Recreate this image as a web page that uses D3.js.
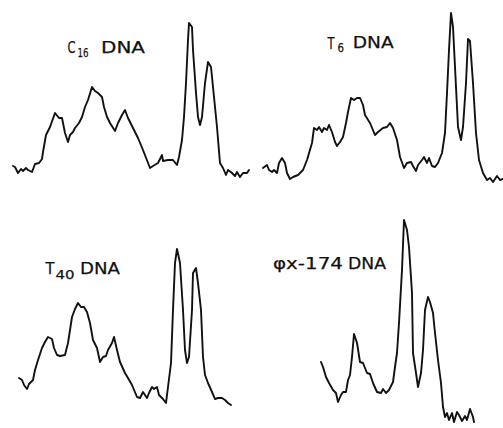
<!DOCTYPE html>
<html>
<head>
<meta charset="utf-8">
<script src="https://cdn.jsdelivr.net/npm/d3@7"></script>
<style>
html,body{margin:0;padding:0;background:#fff;}
svg{display:block;}
text{font-family:"DejaVu Sans","Liberation Sans",sans-serif;fill:#111;stroke:#111;stroke-width:0.25;}
</style>
</head>
<body>
<svg id="chart" width="503" height="428"></svg>
<script>
// Densitometer traces: [position along gradient, absorbance] (arbitrary units)
const c16 = [[1,14],[3,13],[6,7],[9,11],[11,9],[14,12],[16,10],[20,8],[23,16],[27,17],[30,21],[31,28],[34,45],[38,53],[43,67],[47,62],[50,62],[53,47],[56,38],[58,45],[61,48],[63,52],[67,57],[70,63],[73,73],[76,80],[80,93],[83,89],[86,87],[90,83],[92,73],[95,63],[98,57],[103,49],[106,57],[110,65],[113,70],[116,62],[121,52],[126,42],[131,30],[138,12],[141,14],[146,17],[148,21],[150,25],[151,19],[156,20],[161,20],[165,15],[167,23],[170,40],[172,63],[174,97],[176,140],[177,157],[180,153],[181,130],[184,87],[186,63],[188,55],[190,63],[193,97],[196,118],[199,113],[201,93],[205,53],[208,17],[211,12],[214,5],[216,10],[220,7],[223,4],[225,8],[228,3],[231,7],[235,7],[237,10]];
const t6 = [[1,14],[5,17],[7,12],[10,10],[12,12],[15,9],[17,19],[20,24],[23,19],[25,9],[28,3],[31,5],[36,7],[41,12],[45,22],[50,39],[52,54],[55,52],[57,55],[60,50],[62,54],[65,52],[67,57],[70,50],[73,40],[75,36],[78,40],[81,45],[84,59],[86,70],[89,84],[92,82],[95,84],[98,84],[101,77],[103,67],[108,59],[113,47],[116,50],[121,54],[125,55],[128,59],[131,54],[135,42],[138,25],[142,14],[145,19],[149,20],[151,16],[154,11],[156,17],[160,22],[162,25],[165,19],[167,24],[170,16],[173,15],[176,19],[180,29],[183,49],[185,89],[187,132],[189,169],[191,155],[193,115],[196,55],[199,42],[201,55],[204,99],[206,143],[208,141],[211,99],[214,49],[217,22],[221,9],[225,2],[228,4],[231,0],[235,6],[238,2],[241,3]];
const t40 = [[1,28],[4,26],[6,21],[9,17],[11,22],[15,26],[17,36],[20,46],[24,58],[27,64],[30,69],[34,67],[36,58],[39,51],[42,50],[47,51],[50,63],[54,89],[57,97],[60,103],[63,99],[66,99],[69,94],[72,83],[75,66],[79,58],[82,44],[85,49],[88,50],[90,56],[94,63],[96,69],[99,56],[102,44],[107,33],[110,28],[114,21],[119,9],[122,8],[125,14],[129,8],[131,13],[134,19],[136,17],[139,19],[141,11],[145,7],[148,3],[150,19],[153,43],[155,96],[157,143],[159,157],[162,143],[165,96],[167,56],[169,43],[171,49],[174,96],[175,133],[178,138],[180,123],[183,96],[185,49],[187,31],[190,23],[194,14],[197,7],[200,8],[204,8],[207,6],[210,3],[213,1]];
const phix174 = [[1,61],[3,56],[6,46],[9,40],[13,33],[16,30],[18,21],[21,28],[23,31],[26,31],[28,43],[30,48],[32,66],[34,89],[37,80],[40,61],[43,60],[47,50],[50,49],[53,40],[57,31],[61,30],[63,34],[66,30],[69,33],[73,41],[75,56],[77,70],[79,100],[82,153],[84,203],[87,193],[89,176],[92,130],[93,70],[96,50],[98,36],[101,50],[103,73],[105,113],[108,126],[110,121],[113,110],[115,90],[118,63],[121,40],[123,16],[125,6],[127,10],[129,3],[132,10],[134,1],[137,11],[139,8],[142,2],[145,7],[147,3],[150,14],[153,6],[154,1]];

const panelData = [c16, t6, t40, phix174];

// panel placement (layout only)
const layout = [
  {left:12,  base:180},
  {left:262, base:182},
  {left:18,  base:406},
  {left:320, base:423}
];

const svg = d3.select("#chart");

panelData.forEach((data, i) => {
  const L = layout[i];
  const x = d3.scaleLinear().domain([0, 240]).range([L.left, L.left + 240]);
  const y = d3.scaleLinear().domain([0, 200]).range([L.base, L.base - 200]);
  const line = d3.line().x(d => x(d[0])).y(d => y(d[1])).curve(d3.curveLinear);
  svg.append("path")
    .datum(data)
    .attr("d", line)
    .attr("fill", "none")
    .attr("stroke", "#111")
    .attr("stroke-width", 1.9)
    .attr("stroke-linejoin", "round")
    .attr("stroke-linecap", "round");
});

// labels: one text element per label, pieces as tspans
function label(parts){
  const t = svg.append("text");
  parts.forEach(p => {
    const s = t.append("tspan").attr("x", p[1]).attr("y", p[2]).attr("font-size", p[3]).text(p[0]);
    if (p[4]) s.attr("textLength", p[4]).attr("lengthAdjust", "spacingAndGlyphs");
  });
}
label([["C", 67.5, 53, 16.5, 8], ["16", 77.5, 56.5, 12, 11], ["DNA", 101, 52.7, 16, 44]]);
label([["T", 327.5, 48.5, 16.5, 7], ["6", 337.5, 51.5, 12, 6.5], ["DNA", 352.7, 48.3, 16.5, 41]]);
label([["T", 45.5, 273.7, 16.5, 9], ["40", 55.5, 279.3, 12.5, 19], ["DNA", 80, 273.7, 16.5, 40]]);
label([["φx-174", 273, 268.7, 16.5, 70], ["DNA", 348, 268.7, 16.5, 38]]);
</script>
</body>
</html>
